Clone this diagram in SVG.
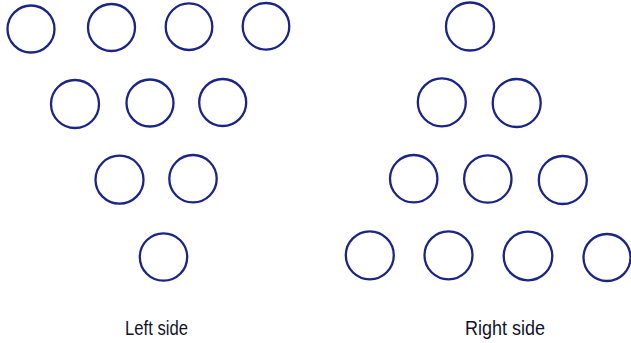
<svg xmlns="http://www.w3.org/2000/svg" width="631" height="343" viewBox="0 0 631 343">
<style>
.c{fill:none;stroke:#1c2585;stroke-width:2.3}
.t{font-family:"Liberation Sans",Arial,sans-serif;font-size:20px;fill:#12122a}
</style>
<rect width="631" height="343" fill="#fff"/>
<g id="left">
<g id="L1"><circle class="c" cx="31" cy="29" r="23.5"/></g>
<g id="L2"><circle class="c" cx="111.5" cy="27.5" r="23.5"/></g>
<g id="L3"><circle class="c" cx="189" cy="26.7" r="23.3"/></g>
<g id="L4"><circle class="c" cx="266" cy="26.3" r="23.3"/></g>
<g id="L5"><circle class="c" cx="75" cy="104" r="24"/></g>
<g id="L6"><circle class="c" cx="150" cy="103" r="23.5"/></g>
<g id="L7"><circle class="c" cx="222.7" cy="102.5" r="23.5"/></g>
<g id="L8"><circle class="c" cx="119.5" cy="179.7" r="24"/></g>
<g id="L9"><circle class="c" cx="193" cy="178.7" r="23.7"/></g>
<g id="L10"><circle class="c" cx="163.5" cy="257" r="23.7"/></g>
<text class="t" x="125" y="335" textLength="63" lengthAdjust="spacingAndGlyphs">Left side</text>
</g>
<g id="right">
<g id="R1"><circle class="c" cx="470" cy="26.5" r="24"/></g>
<g id="R2"><circle class="c" cx="441.8" cy="102.3" r="24"/></g>
<g id="R3"><circle class="c" cx="516.7" cy="103" r="24"/></g>
<g id="R4"><circle class="c" cx="413.7" cy="178.7" r="23.7"/></g>
<g id="R5"><circle class="c" cx="487.8" cy="179" r="23.7"/></g>
<g id="R6"><circle class="c" cx="562.8" cy="180" r="24"/></g>
<g id="R7"><circle class="c" cx="369.8" cy="255.3" r="24"/></g>
<g id="R8"><circle class="c" cx="448.5" cy="255.3" r="24"/></g>
<g id="R9"><circle class="c" cx="528" cy="256" r="24.3"/></g>
<g id="R10"><circle class="c" cx="607" cy="257.5" r="23.5"/></g>
<text class="t" x="465" y="335" textLength="80" lengthAdjust="spacingAndGlyphs">Right side</text>
</g>
</svg>
